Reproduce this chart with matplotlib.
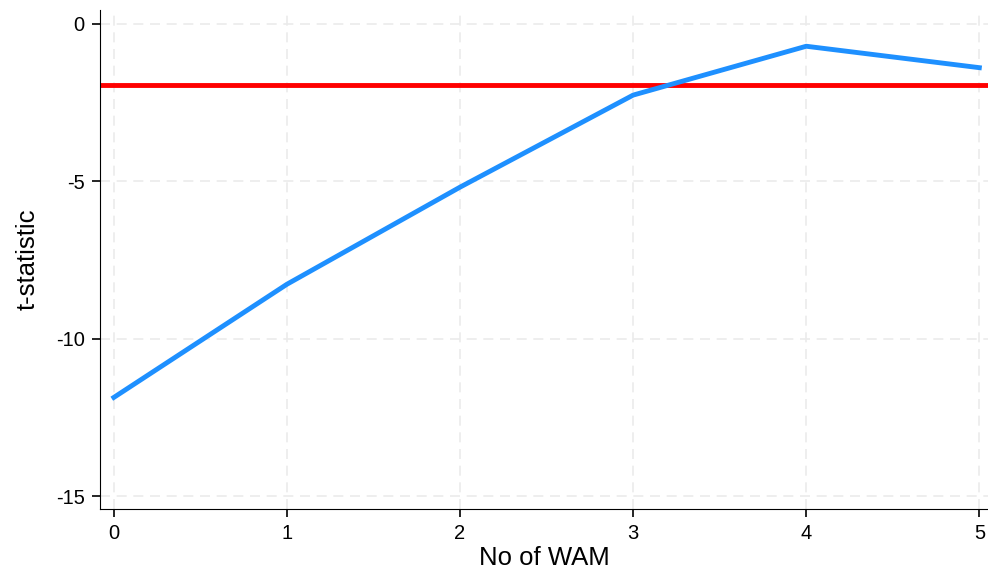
import matplotlib.pyplot as plt

plt.rcParams["font.family"] = ["Liberation Sans", "DejaVu Sans"]
plt.rcParams["axes.unicode_minus"] = False

# data
n_wam = [0, 1, 2, 3, 4, 5]
t_stat = [-11.86, -8.27, -5.19, -2.27, -0.72, -1.40]
crit = -1.96

fig = plt.figure(figsize=(9.88, 5.74), dpi=100)
ax = fig.add_axes([0.1012, 0.1132, 0.8988, 0.8694])

ax.plot(n_wam, t_stat, color="#1E90FF", lw=3.5, zorder=3)
ax.axhline(crit, color="#FF0000", lw=3.5, zorder=2)

ax.set_xlim(-0.08, 5.05)
ax.set_ylim(-15.4, 0.43)
ax.set_xticks(n_wam)
ax.set_yticks([0, -5, -10, -15])
ax.grid(True, color="#EBEBEB", ls=(0, (6, 4)), lw=1.2)
ax.set_axisbelow(True)

for s in ["top", "right"]:
    ax.spines[s].set_visible(False)
ax.tick_params(labelsize=14.5, length=6, width=1.2, pad=5)
ax.set_xlabel("No of WAM", fontsize=18.5, labelpad=2)
ax.set_ylabel("t-statistic", fontsize=18.5, labelpad=12)

fig.savefig("out.png", dpi=100)
